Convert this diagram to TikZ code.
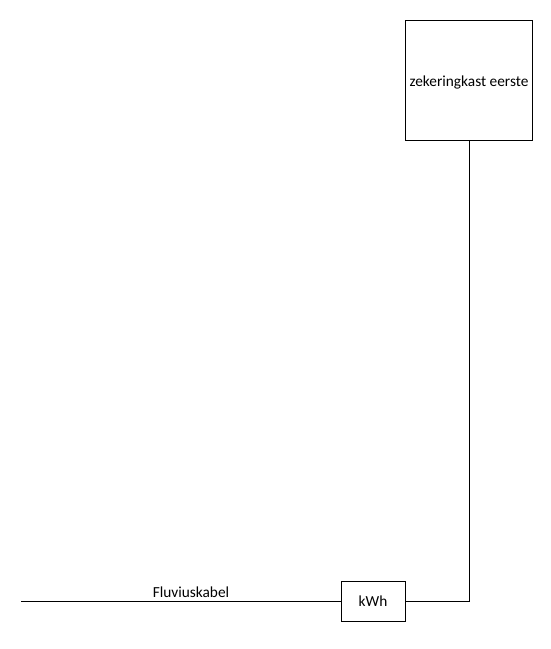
\documentclass[tikz,border=0pt]{standalone}
\usepackage{fontspec}
\setmainfont{Carlito}
\begin{document}
\begin{tikzpicture}[x=0.75pt,y=-0.75pt,
  box/.style={draw=black,line width=0.75pt,inner sep=0pt,font=\fontsize{11.5}{13}\selectfont},
  wire/.style={draw=black,line width=0.75pt},
  lbl/.style={font=\fontsize{11.5}{13}\selectfont,inner sep=0pt}]
\useasboundingbox (0,0) rectangle (550,649);
\node[box,minimum width=95.25pt,minimum height=89.5pt] (zk) at (469,80.5) {};
\node[lbl] at (469,82) {zekeringkast eerste};
\node[box,minimum width=48pt,minimum height=30pt] (kwh) at (373,601) {kWh};
\coordinate (start) at (21,601);
\coordinate (corner) at (469,601);
\draw[wire] (start) -- (kwh.west);
\node[lbl] (fk) at (191,592) {Fluviuskabel};
\draw[wire] (kwh.east) -- (corner) -- (zk.south);
\end{tikzpicture}
\end{document}
